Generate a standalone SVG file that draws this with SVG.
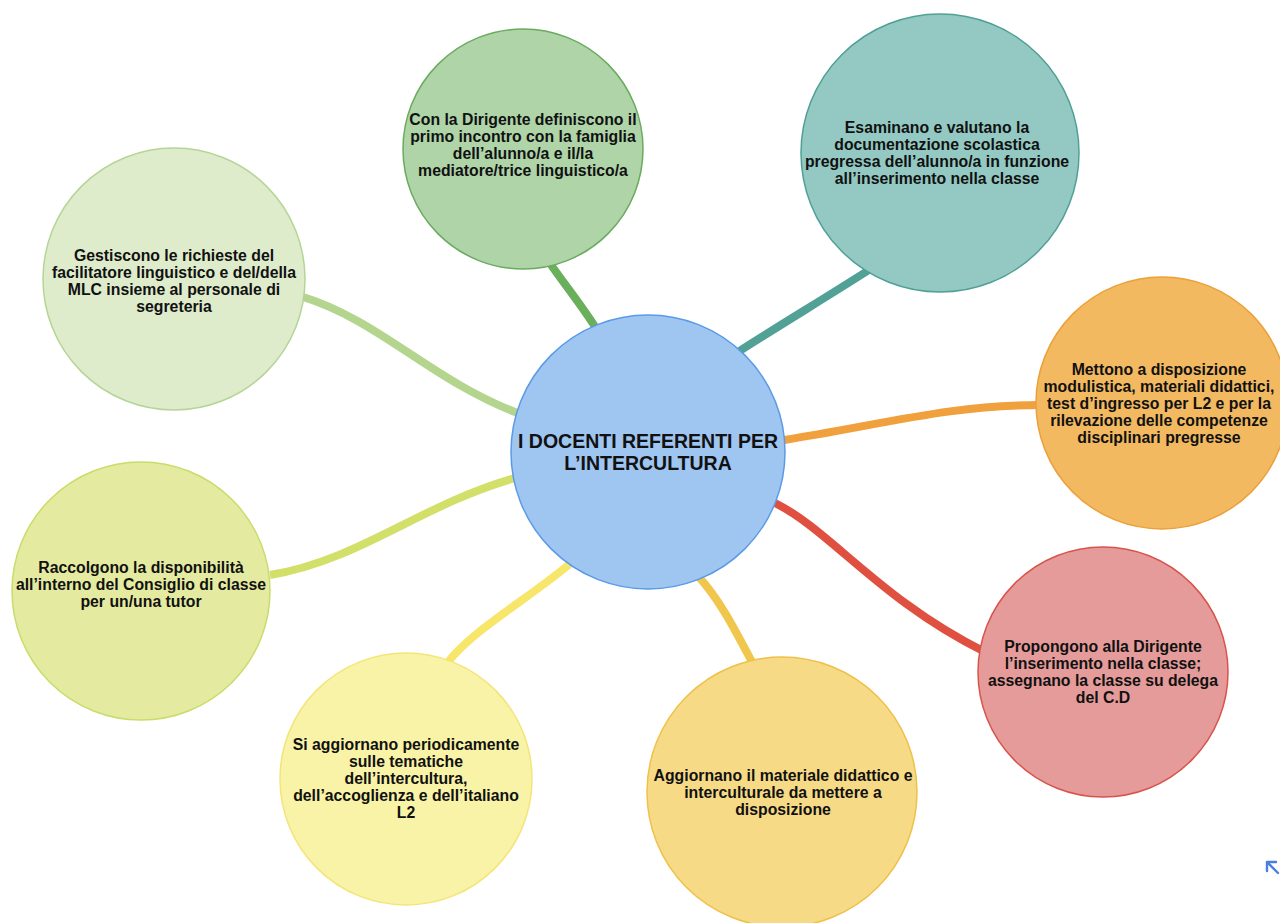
<svg xmlns="http://www.w3.org/2000/svg" width="1280" height="923" viewBox="0 0 1280 923">
<style>
.t{font-family:"Liberation Sans",Arial,sans-serif;font-weight:bold;font-size:15.8px;fill:#111;text-anchor:middle}
.c{font-size:19.5px}
.n{stroke-width:1.5}
.e{fill:none;stroke-width:8;stroke-linecap:butt}
</style>
<rect width="1280" height="923" fill="#ffffff"/>
<g id="connectors">
<path class="e" stroke="#6aaf5c" d="M597,330 C585,310 565,285 549,262"/>
<path class="e" stroke="#52a197" d="M738,352 C780,325 830,295 872,268"/>
<path class="e" stroke="#b3d58e" d="M300,296 C380,320 430,380 520,414"/>
<path class="e" stroke="#d2e06a" d="M270,575 C360,560 420,505 515,478"/>
<path class="e" stroke="#f7e66a" d="M448,662 C475,628 530,598 572,562"/>
<path class="e" stroke="#f1c64c" d="M698,576 C720,600 735,630 752,662"/>
<path class="e" stroke="#f0a03c" d="M784,440 C880,425 950,405 1040,405"/>
<path class="e" stroke="#df5040" d="M775,503 C830,530 880,600 985,652"/>
</g>
<g id="center">
<circle class="n" cx="648" cy="452" r="137" fill="#9fc6f1" stroke="#5a9ae6"/>
<text class="t c" x="648" y="448">I DOCENTI REFERENTI PER</text>
<text class="t c" x="648" y="470">L’INTERCULTURA</text>
</g>
<g id="node-dirigente">
<circle class="n" cx="523" cy="149" r="120" fill="#aed4a8" stroke="#6aab5e"/>
<text class="t" x="523" y="125">Con la Dirigente definiscono il</text>
<text class="t" x="523" y="142">primo incontro con la famiglia</text>
<text class="t" x="523" y="159">dell’alunno/a e il/la</text>
<text class="t" x="523" y="176">mediatore/trice linguistico/a</text>
</g>
<g id="node-esaminano">
<circle class="n" cx="940" cy="153" r="139" fill="#93c9c2" stroke="#4fa095"/>
<text class="t" x="937" y="133">Esaminano e valutano la</text>
<text class="t" x="937" y="150">documentazione scolastica</text>
<text class="t" x="937" y="167">pregressa dell’alunno/a in funzione</text>
<text class="t" x="937" y="184">all’inserimento nella classe</text>
</g>
<g id="node-gestiscono">
<circle class="n" cx="174" cy="279" r="131" fill="#deeccc" stroke="#b5d596"/>
<text class="t" x="174" y="261">Gestiscono le richieste del</text>
<text class="t" x="174" y="278">facilitatore linguistico e del/della</text>
<text class="t" x="174" y="295">MLC insieme al personale di</text>
<text class="t" x="174" y="312">segreteria</text>
</g>
<g id="node-mettono">
<circle class="n" cx="1162" cy="403" r="126" fill="#f2b961" stroke="#eca03a"/>
<text class="t" x="1159" y="375">Mettono a disposizione</text>
<text class="t" x="1159" y="392">modulistica, materiali didattici,</text>
<text class="t" x="1159" y="409">test d’ingresso per L2 e per la</text>
<text class="t" x="1159" y="426">rilevazione delle competenze</text>
<text class="t" x="1159" y="443">disciplinari pregresse</text>
</g>
<g id="node-raccolgono">
<circle class="n" cx="141" cy="591" r="129" fill="#e4eba0" stroke="#c9dc6a"/>
<text class="t" x="141" y="573">Raccolgono la disponibilità</text>
<text class="t" x="141" y="590">all’interno del Consiglio di classe</text>
<text class="t" x="141" y="607">per un/una tutor</text>
</g>
<g id="node-aggiornano-periodicamente">
<circle class="n" cx="406" cy="779" r="126" fill="#f8f3a6" stroke="#f3e57a"/>
<text class="t" x="406" y="750">Si aggiornano periodicamente</text>
<text class="t" x="406" y="767">sulle tematiche</text>
<text class="t" x="406" y="784">dell’intercultura,</text>
<text class="t" x="406" y="801">dell’accoglienza e dell’italiano</text>
<text class="t" x="406" y="818">L2</text>
</g>
<g id="node-aggiornano-materiale">
<circle class="n" cx="782" cy="792" r="135" fill="#f6da86" stroke="#efc04a"/>
<text class="t" x="783" y="781">Aggiornano il materiale didattico e</text>
<text class="t" x="783" y="798">interculturale da mettere a</text>
<text class="t" x="783" y="815">disposizione</text>
</g>
<g id="node-propongono">
<circle class="n" cx="1103" cy="672" r="125" fill="#e49b9a" stroke="#d9534a"/>
<text class="t" x="1103" y="652">Propongono alla Dirigente</text>
<text class="t" x="1103" y="669">l’inserimento nella classe;</text>
<text class="t" x="1103" y="686">assegnano la classe su delega</text>
<text class="t" x="1103" y="703">del C.D</text>
</g>
<g id="corner-arrow" fill="none" stroke="#4a7fe0" stroke-width="2.4" stroke-linecap="round">
<path d="M1278,873 L1267,862 M1267,862 L1267,871 M1267,862 L1276,862"/>
</g>
</svg>
